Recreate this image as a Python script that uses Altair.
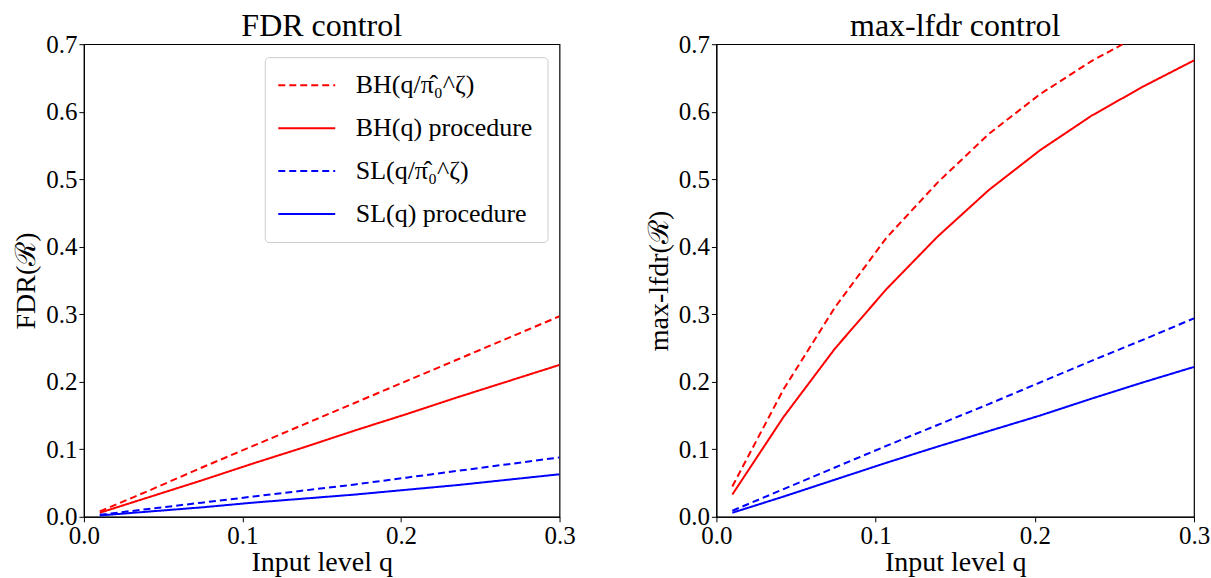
import altair as alt
import pandas as pd

q_levels = [0.01, 0.0422, 0.0744, 0.1067, 0.1389, 0.1711, 0.2033, 0.2356, 0.2678, 0.3]

series_names = ["BH(q/π̂₀^ζ)", "BH(q) procedure", "SL(q/π̂₀^ζ)", "SL(q) procedure"]
series_colors = ["#ff0000", "#ff0000", "#0000ff", "#0000ff"]
series_dashes = [[7, 4], [1, 0], [7, 4], [1, 0]]

# FDR control panel
fdr_bh_adapt = [0.008, 0.040, 0.073, 0.105, 0.137, 0.169, 0.201, 0.233, 0.265, 0.297]
fdr_bh = [0.006, 0.030, 0.054, 0.079, 0.103, 0.128, 0.152, 0.177, 0.201, 0.225]
fdr_sl_adapt = [0.003, 0.012, 0.021, 0.030, 0.039, 0.048, 0.058, 0.068, 0.078, 0.088]
fdr_sl = [0.002, 0.008, 0.014, 0.021, 0.027, 0.033, 0.040, 0.047, 0.055, 0.063]

# max-lfdr control panel
lfdr_bh_adapt = [0.045, 0.189, 0.310, 0.413, 0.495, 0.567, 0.626, 0.675, 0.716, 0.755]
lfdr_bh = [0.033, 0.148, 0.249, 0.337, 0.415, 0.484, 0.543, 0.594, 0.637, 0.676]
lfdr_sl_adapt = [0.009, 0.041, 0.073, 0.105, 0.136, 0.167, 0.199, 0.231, 0.262, 0.294]
lfdr_sl = [0.006, 0.030, 0.055, 0.080, 0.104, 0.127, 0.150, 0.175, 0.199, 0.222]


def make_df(vals_list):
    rows = []
    for name, vals in zip(series_names, vals_list):
        for q, v in zip(q_levels, vals):
            rows.append({"q": q, "value": v, "series": name})
    return pd.DataFrame(rows)


df_fdr = make_df([fdr_bh_adapt, fdr_bh, fdr_sl_adapt, fdr_sl])
df_lfdr = make_df([lfdr_bh_adapt, lfdr_bh, lfdr_sl_adapt, lfdr_sl])

FONT = "Liberation Serif"


def panel(df, title, ytitle, show_legend, w):
    if show_legend:
        legend = alt.Legend(
            title=None,
            orient="none",
            legendX=181,
            legendY=13,
            symbolType="M-3,0H3",
            symbolSize=361,
            symbolOffset=14,
            symbolStrokeWidth=2,
            labelFont=FONT,
            labelFontSize=26,
            labelColor="black",
            labelOffset=36,
            labelLimit=400,
            rowPadding=17,
            padding=15,
            strokeColor="#cccccc",
            fillColor="white",
            cornerRadius=4,
        )
    else:
        legend = None
    return (
        alt.Chart(df)
        .mark_line(clip=True, strokeWidth=2)
        .encode(
            x=alt.X(
                "q:Q",
                scale=alt.Scale(domain=[0, 0.3], nice=False),
                axis=alt.Axis(values=[0, 0.1, 0.2, 0.3], format=".1f", title="Input level q"),
            ),
            y=alt.Y(
                "value:Q",
                scale=alt.Scale(domain=[0, 0.7], nice=False),
                axis=alt.Axis(values=[0, 0.1, 0.2, 0.3, 0.4, 0.5, 0.6, 0.7], format=".1f", title=ytitle),
            ),
            color=alt.Color(
                "series:N",
                scale=alt.Scale(domain=series_names, range=series_colors),
                legend=legend,
            ),
            strokeDash=alt.StrokeDash(
                "series:N",
                scale=alt.Scale(domain=series_names, range=series_dashes),
                legend=legend,
            ),
            detail="series:N",
        )
        .properties(
            width=w,
            height=473,
            title=alt.TitleParams(title, offset=-11),
        )
    )


left = panel(df_fdr, "FDR control", "FDR(ℛ)", True, 476)
right = panel(df_lfdr, "max-lfdr control", "max-lfdr(ℛ)", False, 478)

chart = (
    alt.hconcat(left, right, spacing=68)
    .resolve_scale(color="independent", strokeDash="independent")
    .resolve_legend(color="independent", strokeDash="independent")
    .properties(padding={"left": 12, "top": 9, "right": 0, "bottom": 0}, background="white")
    .configure_view(stroke="black", strokeWidth=1.2)
    .configure_axis(
        labelFont=FONT,
        labelFontSize=25,
        labelColor="black",
        titleFont=FONT,
        titleFontSize=28,
        titleFontWeight="normal",
        titleColor="black",
        domainColor="black",
        tickColor="black",
        tickSize=5,
        grid=False,
        labelPadding=2,
    )
    .configure_axisX(titlePadding=0, labelFlush=False)
    .configure_axisY(titlePadding=5, labelFlush=False)
    .configure_title(font=FONT, fontSize=32, fontWeight="normal", color="black")
)

chart.save("out.html", embed_options={"renderer": "svg", "actions": False})
